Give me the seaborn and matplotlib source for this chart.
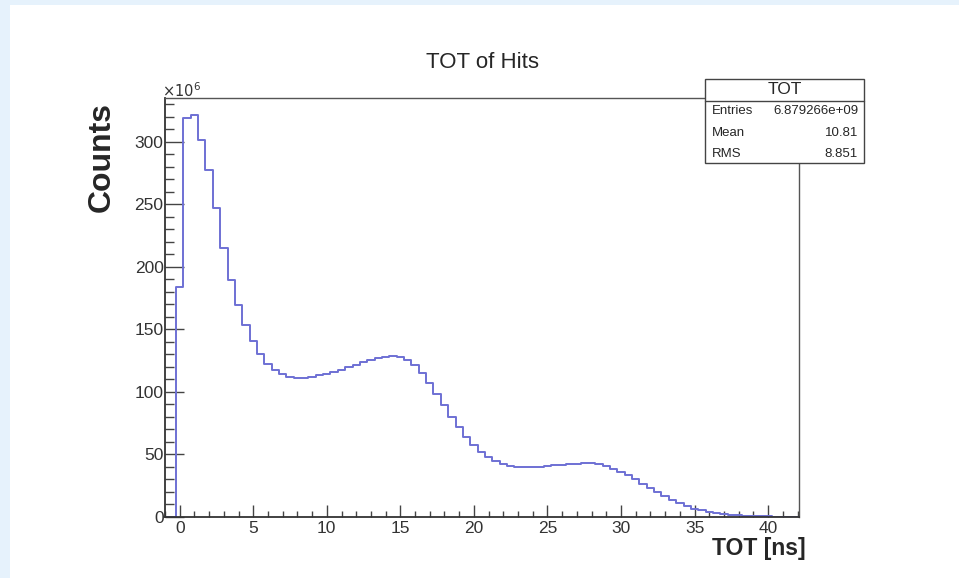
import numpy as np
import pandas as pd
import matplotlib
matplotlib.use("Agg")
import matplotlib.pyplot as plt
import seaborn as sns
from matplotlib.patches import Rectangle
from matplotlib.ticker import MultipleLocator

# Counts per 0.5 ns bin (in units of 10^6), bins centred from -1.0 ns to 42.0 ns
counts = [0, 0, 184, 319, 321, 301, 277, 247, 215, 189,
          169, 153, 140.5, 130, 122.5, 117.5, 114, 112, 111, 111,
          112, 113, 114.5, 116, 117.5, 119.5, 121.5, 123.5, 125.5, 127,
          128, 128.7, 127.5, 125, 121.5, 115, 107, 98.5, 89.5, 80,
          71.5, 64, 57.5, 52, 48, 44.5, 42, 40.5, 39.8, 39.5,
          39.5, 40, 40.5, 41, 41.5, 42, 42.5, 43, 42.8, 42,
          40.5, 38.5, 36, 33, 30, 26.5, 23, 19.5, 16.5, 13.5,
          11, 8.5, 6.5, 5, 3.8, 2.8, 2, 1.4, 1, 0.7,
          0.5, 0.3, 0.2, 0.1, 0.1, 0.05, 0]
bin_width = 0.5
tot_ns = np.arange(len(counts)) * bin_width - 1.0

stats_title = "TOT"
stats_rows = [("Entries", "6.879266e+09"), ("Mean", "10.81"), ("RMS", "8.851")]

df = pd.DataFrame({"TOT": tot_ns, "Counts": counts})
# bins passed as a list: seaborn compares bins to "auto" when weights are used
edges = list(np.append(tot_ns - bin_width / 2, tot_ns[-1] + bin_width / 2))

sns.set_style("ticks")
plt.rcParams["font.family"] = ["Liberation Sans", "DejaVu Sans"]

fig = plt.figure(figsize=(9.59, 5.78), dpi=100)
fig.patch.set_facecolor("#e6f2fc")
# white canvas inside the light blue window border (behind the axes)
fig.patches.append(Rectangle((10 / 959, 0), 1, 1 - 5 / 578, transform=fig.transFigure,
                             facecolor="white", edgecolor="none", zorder=-1))

ax = fig.add_axes([165 / 959, 1 - 516.7 / 578, (799 - 165) / 959, (516.7 - 98) / 578])
sns.histplot(data=df, x="TOT", weights="Counts", bins=edges, element="step",
             fill=False, color="#6e70d4", linewidth=1.4, ax=ax)

ax.set_xlim(-1, 42.1)
ax.set_ylim(0, 335)
ax.xaxis.set_major_locator(MultipleLocator(5))
ax.xaxis.set_minor_locator(MultipleLocator(1))
ax.yaxis.set_major_locator(MultipleLocator(50))
ax.yaxis.set_minor_locator(MultipleLocator(10))
ax.tick_params(axis="x", which="major", direction="in", length=9, width=1, color="#444444",
               labelsize=12.5, labelcolor="#333333", pad=3)
ax.tick_params(axis="x", which="minor", direction="in", length=4, width=1, color="#444444")
ax.tick_params(axis="y", which="major", direction="in", length=14, width=1, color="#444444",
               labelsize=12.5, labelcolor="#333333", pad=1)
ax.tick_params(axis="y", which="minor", direction="in", length=6.5, width=1, color="#444444")
for side in ["top", "right"]:
    ax.spines[side].set_visible(True)
    ax.spines[side].set_color("#555555")
    ax.spines[side].set_linewidth(1)
for side in ["left", "bottom"]:
    ax.spines[side].set_color("#333333")
    ax.spines[side].set_linewidth(1.3)

ax.set_xlabel("")
ax.set_ylabel("")
fig.text(806 / 959, 1 - 549 / 578, "TOT [ns]", ha="right", va="center",
         fontsize=16.5, fontweight="bold")
fig.text(102 / 959, 1 - 102 / 578, "Counts", ha="center", va="top", rotation=90,
         fontsize=23, fontweight="bold")
fig.text(162 / 959, 1 - 91 / 578, r"$\times10^{6}$", ha="left", va="center",
         fontsize=10.5, color="#333333")
fig.text(482 / 959, 1 - 63 / 578, "TOT of Hits", ha="center", va="center", fontsize=16)

# stats box
bx0, bx1, by0, by1 = 705, 864, 79, 163
fig.patches.append(Rectangle((bx0 / 959, 1 - by1 / 578), (bx1 - bx0) / 959, (by1 - by0) / 578,
                             transform=fig.transFigure, facecolor="white",
                             edgecolor="#444444", linewidth=1, zorder=5))
fig.lines.append(plt.Line2D([bx0 / 959, bx1 / 959], [1 - 101 / 578, 1 - 101 / 578],
                            transform=fig.transFigure, color="#444444", linewidth=1, zorder=6))
fig.text((bx0 + bx1) / 2 / 959, 1 - 90 / 578, stats_title, ha="center", va="center",
         fontsize=12.5, zorder=7)
for i, (name, val) in enumerate(stats_rows):
    yy = 1 - (111 + i * 21.5) / 578
    fig.text(712 / 959, yy, name, ha="left", va="center", fontsize=9.5, zorder=7)
    fig.text(858 / 959, yy, val, ha="right", va="center", fontsize=9.5, zorder=7)

fig.savefig("out.png", dpi=100, facecolor=fig.get_facecolor())
